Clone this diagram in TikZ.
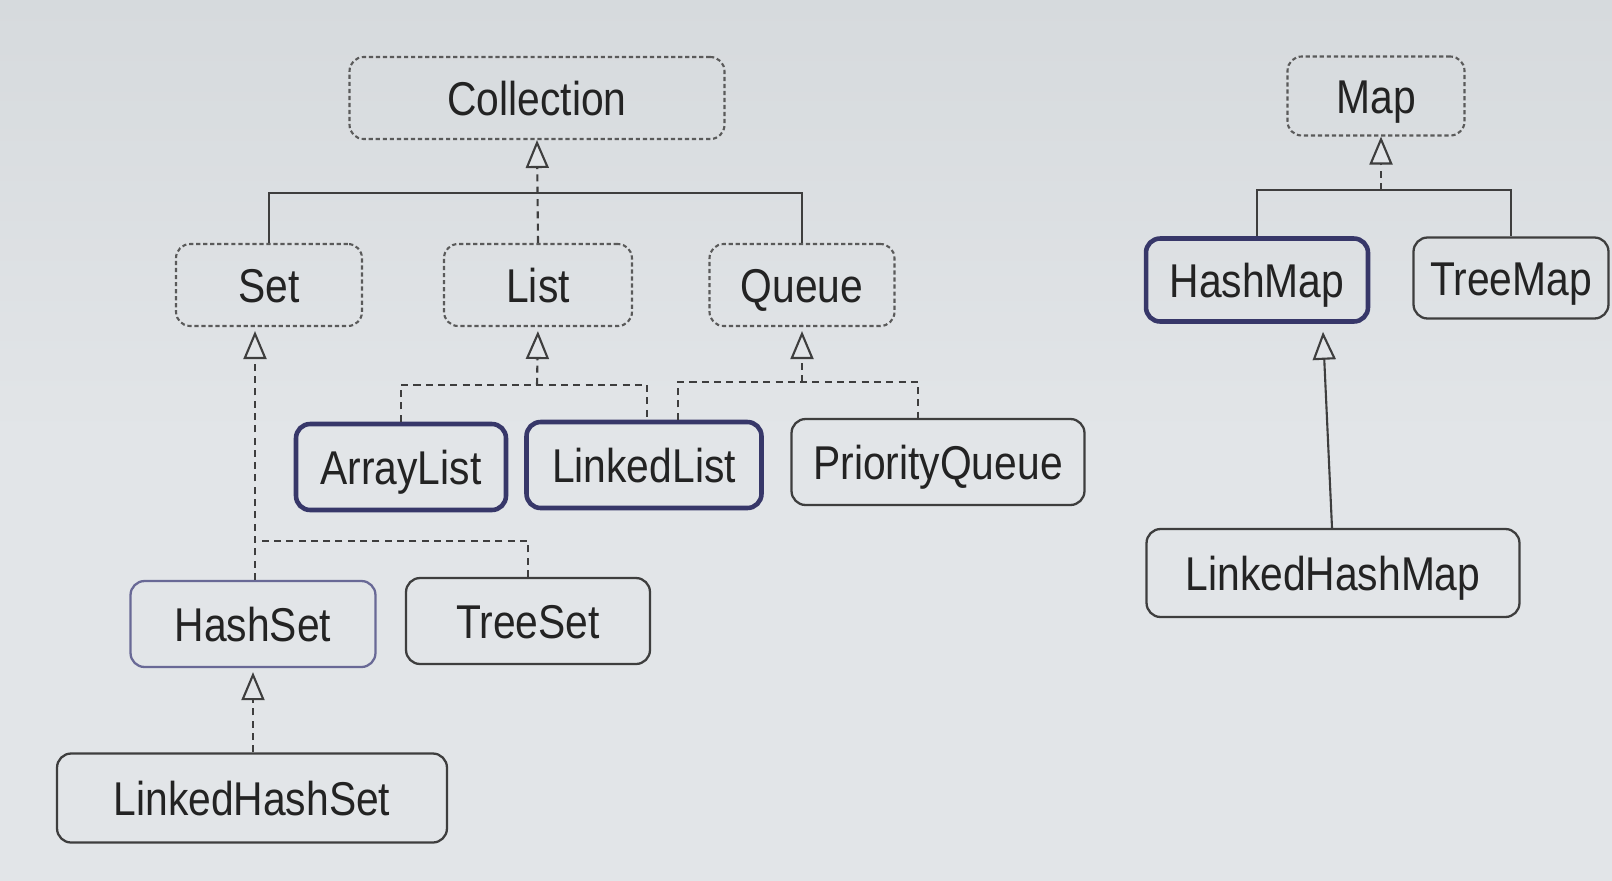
\documentclass[tikz,border=0pt]{standalone}
\usepackage{fontspec}
\setmainfont{Liberation Sans}[FakeStretch=0.86]
\usepackage{tikz}
\usetikzlibrary{arrows.meta, positioning}
\definecolor{pagegray}{RGB}{226, 229, 232}
\definecolor{pagetop}{RGB}{214, 218, 221}
\definecolor{linegray}{RGB}{62, 62, 62}
\definecolor{dotgray}{RGB}{90, 90, 90}
\definecolor{boxnavy}{RGB}{55, 55, 105}
\definecolor{setnavy}{RGB}{105, 105, 150}
\definecolor{inkgray}{RGB}{35, 35, 35}

\begin{document}
\begin{tikzpicture}[x=0.02cm, y=-0.02cm,
  >={Triangle[open, length=0.56cm, width=0.46cm, fill=pagegray]},
  base/.style={rounded corners=8pt, text=inkgray, font=\fontsize{27}{32}\selectfont,
    text height=19.5pt, text depth=0pt},
  iface/.style={base, draw=dotgray, line width=1.2pt, dash pattern=on 2.4pt off 1.6pt, minimum height=1.64cm},
  impl/.style={base, draw=linegray, line width=1.3pt, minimum height=1.72cm},
  mainimpl/.style={impl, draw=boxnavy, line width=2.6pt},
  link/.style={draw=linegray, line width=1.2pt},
  dlink/.style={link, dash pattern=on 4pt off 3pt},
  tipgap/.style={shorten >=0.08cm}]
  \shade[top color=pagetop, bottom color=pagegray, middle color=pagegray] (0,0) rectangle (1612,880);
  \useasboundingbox (0,0) rectangle (1612,880);

  \node[iface, minimum width=7.5cm] (collection) at (537,98) {Collection};
  \node[iface, minimum width=3.72cm] (set) at (269,285) {Set};
  \node[iface, minimum width=3.76cm] (list) at (538,285) {List};
  \node[iface, minimum width=3.7cm] (queue) at (802,285) {Queue};

  \node[mainimpl, minimum width=4.2cm] (arraylist) at (401,467) {ArrayList};
  \node[mainimpl, minimum width=4.7cm] (linkedlist) at (644,465) {LinkedList};
  \node[impl, minimum width=5.86cm] (priorityqueue) at (938,462) {PriorityQueue};

  \node[impl, draw=setnavy, minimum width=4.9cm] (hashset) at (253,624) {HashSet};
  \node[impl, minimum width=4.88cm] (treeset) at (528,621) {TreeSet};
  \node[impl, minimum width=7.8cm, minimum height=1.78cm] (linkedhashset) at (252,798) {LinkedHashSet};

  \node[iface, minimum width=3.54cm, minimum height=1.58cm] (map) at (1376,96) {Map};
  \node[mainimpl, minimum width=4.44cm, minimum height=1.66cm] (hashmap) at (1257,280) {HashMap};
  \node[impl, minimum width=3.9cm, minimum height=1.62cm] (treemap) at (1511,278) {TreeMap};
  \node[impl, minimum width=7.46cm, minimum height=1.76cm] (linkedhashmap) at (1333,573) {LinkedHashMap};

  \coordinate (colbar) at (537,193);
  \coordinate (setbar) at (255,541);
  \coordinate (listbar) at (537,385);
  \coordinate (queuebar) at (802,382);
  \coordinate (mapbar) at (1381,190);

  \draw[link] (set.north) |- (colbar) -| (queue.north);
  \draw[dlink, ->] (list.north) -- (collection.south);

  \draw[dlink, ->, tipgap] (setbar |- hashset.north) -- (setbar |- set.south);
  \draw[dlink] (treeset.north) |- (setbar);

  \draw[dlink, ->, tipgap] (listbar) -- (list.south);
  \draw[dlink] (arraylist.north) |- (listbar) -| ([xshift=0.06cm]linkedlist.north);
  \draw[dlink, ->, tipgap] (queuebar) -- (queue.south);
  \draw[dlink] ([xshift=0.68cm]linkedlist.north) |- (queuebar) -| ([xshift=-0.4cm]priorityqueue.north);

  \draw[dlink, ->, tipgap] (hashset.south |- linkedhashset.north) -- (hashset.south);

  \draw[link] (hashmap.north) |- (mapbar) -| (treemap.north);
  \draw[dlink, ->] (mapbar) -- (mapbar |- map.south);
  \draw[link, ->] ([xshift=-0.02cm]linkedhashmap.north) -- ([xshift=1.32cm, yshift=-0.16cm]hashmap.south);
\end{tikzpicture}
\end{document}
